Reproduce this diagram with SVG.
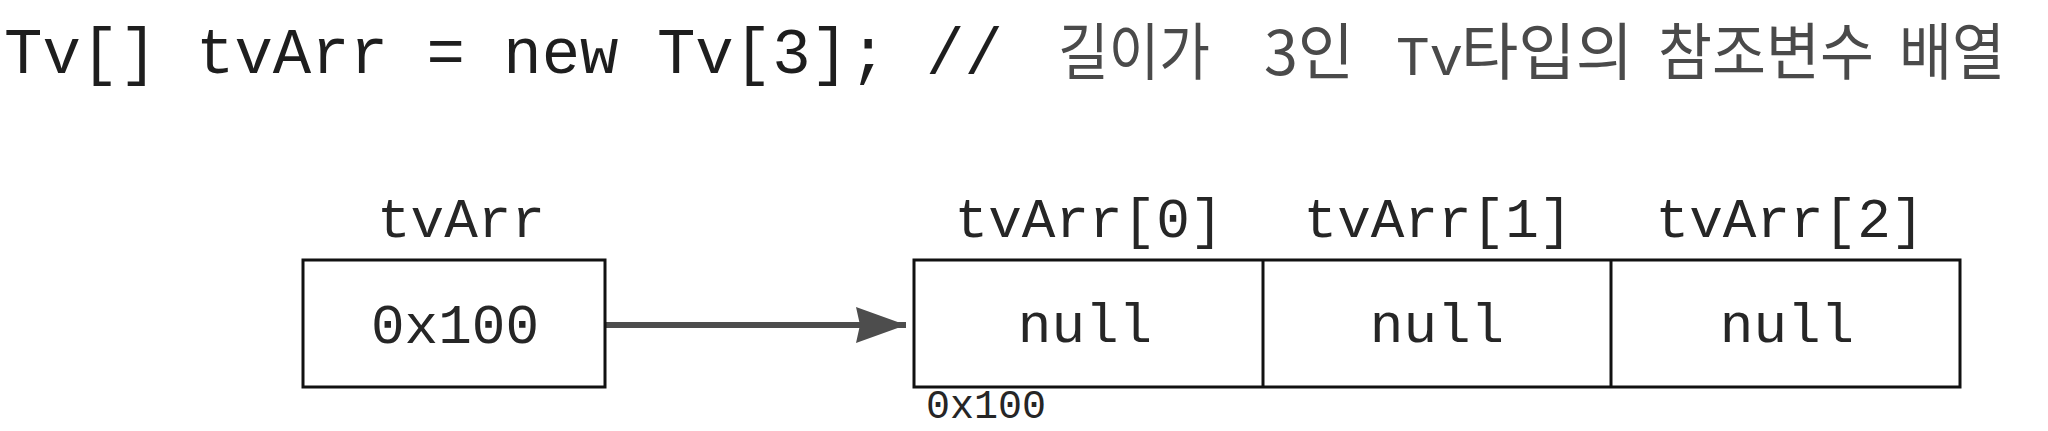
<svg xmlns="http://www.w3.org/2000/svg" width="2048" height="431" viewBox="0 0 2048 431">
<style>
.bg{fill:#ffffff}
.code{font-family:"Liberation Mono","Courier New",monospace;fill:#1e1e1e}
.cmt{font-family:"Noto Sans CJK KR","Noto Sans",sans-serif;fill:#4a4a4a;font-size:62px}
.cmtmono{font-family:"Liberation Mono","Courier New",monospace;fill:#4a4a4a;font-size:56px}
.lbl{font-family:"Liberation Mono","Courier New",monospace;fill:#262626;font-size:56px;text-anchor:middle}
.addr{font-family:"Liberation Mono","Courier New",monospace;fill:#262626;font-size:40px}
.box{fill:#ffffff;stroke:#111;stroke-width:3}
.div{stroke:#111;stroke-width:3}
.conn{stroke:#4d4d4d;stroke-width:6;fill:none}
</style>
<defs>
<marker id="arrowhead" markerUnits="userSpaceOnUse" markerWidth="54" markerHeight="40" refX="50" refY="18" orient="auto">
<path d="M0,0 L50,18 L0,36 L4,18 Z" fill="#4d4d4d"/>
</marker>
</defs>
<rect class="bg" x="0" y="0" width="2048" height="431"/>
<g id="title">
<text class="code" x="4" y="73" font-size="64">Tv[] tvArr = new Tv[3];</text>
<text class="code" x="926" y="73" font-size="64" fill="#555">//</text>
<text class="cmt" x="1058" y="75" textLength="152" lengthAdjust="spacingAndGlyphs">길이가</text>
<text class="cmt" x="1264" y="75" textLength="90" lengthAdjust="spacingAndGlyphs">3인</text>
<text class="cmtmono" x="1396" y="75">Tv</text>
<text class="cmt" x="1461" y="75" textLength="172" lengthAdjust="spacingAndGlyphs">타입의</text>
<text class="cmt" x="1658" y="75" textLength="216" lengthAdjust="spacingAndGlyphs">참조변수</text>
<text class="cmt" x="1899" y="75" textLength="106" lengthAdjust="spacingAndGlyphs">배열</text>
</g>
<g id="connectors">
<line class="conn" x1="606" y1="325" x2="906" y2="325" marker-end="url(#arrowhead)"/>
</g>
<g id="node-tvArr">
<text class="lbl" x="461" y="237">tvArr</text>
<rect class="box" x="303" y="260" width="302" height="127"/>
<text class="lbl" x="455" y="343">0x100</text>
</g>
<g id="node-array">
<rect class="box" x="914" y="260" width="1046" height="127"/>
<line class="div" x1="1263" y1="260" x2="1263" y2="387"/>
<line class="div" x1="1611" y1="260" x2="1611" y2="387"/>
<text class="lbl" x="1089" y="237">tvArr[0]</text>
<text class="lbl" x="1438" y="237">tvArr[1]</text>
<text class="lbl" x="1790" y="237">tvArr[2]</text>
<text class="lbl" x="1085" y="342">null</text>
<text class="lbl" x="1437" y="342">null</text>
<text class="lbl" x="1787" y="342">null</text>
<text class="addr" x="926" y="418">0x100</text>
</g>
</svg>
